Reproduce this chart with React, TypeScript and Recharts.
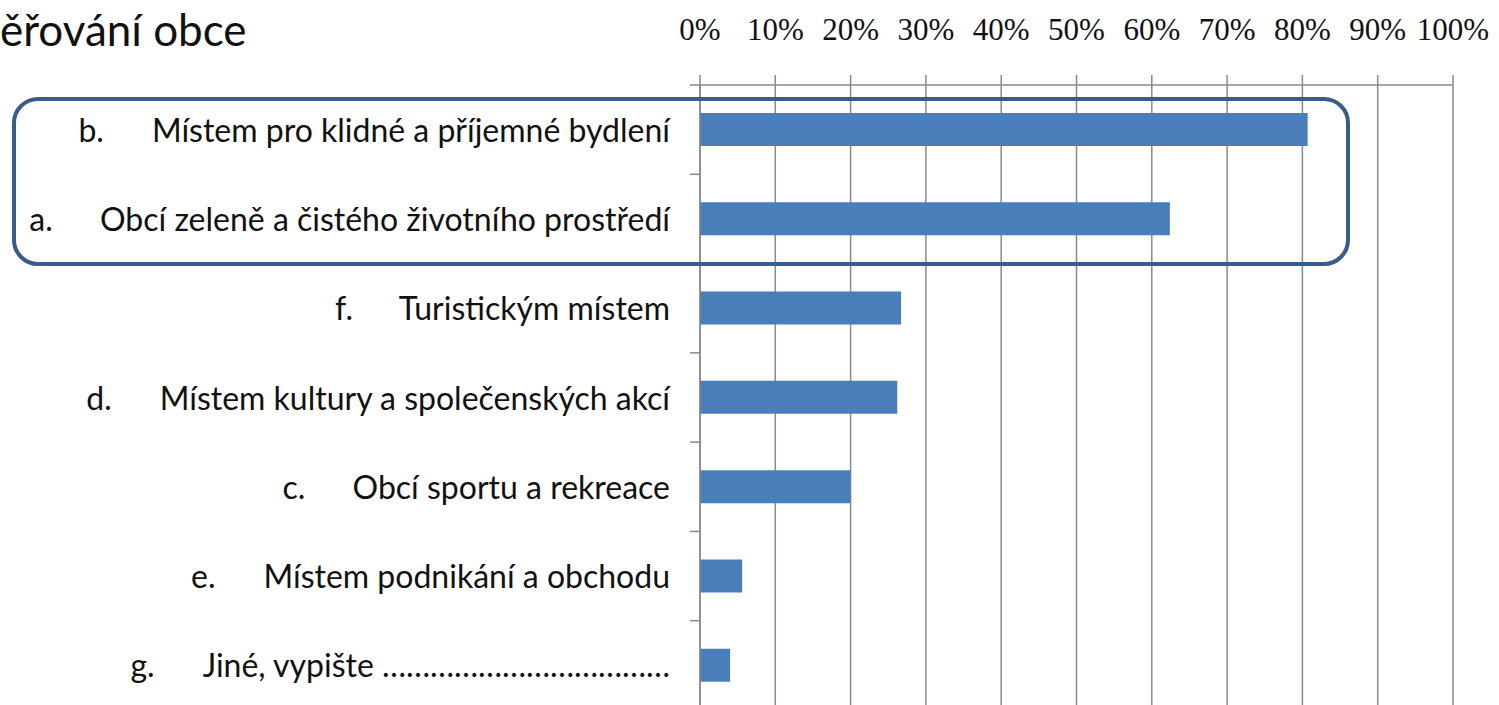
import React from "react";
import { Bar, BarChart, CartesianGrid, XAxis, YAxis } from "recharts";

const letters = ["b.", "a.", "f.", "d.", "c.", "e.", "g."];
const labels = [
  "Místem pro klidné a příjemné bydlení",
  "Obcí zeleně a čistého životního prostředí",
  "Turistickým místem",
  "Místem kultury a společenských akcí",
  "Obcí sportu a rekreace",
  "Místem podnikání a obchodu",
  "Jiné, vypište ………………………………",
];
const shares = [80.7, 62.4, 26.7, 26.2, 20.0, 5.6, 4.0];
const percentTicks = [0, 10, 20, 30, 40, 50, 60, 70, 80, 90, 100];

const data = labels.map((label, i) => ({
  name: label,
  letter: letters[i],
  value: shares[i],
}));

const CHART_W = 1499;
const CHART_H = 710;
const TOP_AXIS_H = 85;
const HALF_BAND = (CHART_H - TOP_AXIS_H) / data.length / 2;
const GRID = "#8a8a8a";
const LABEL_FONT = "Lato, 'Noto Sans', sans-serif";

const CategoryTick = (props: any) => {
  const { x, y, index } = props;
  const row = data[index];
  return (
    <g>
      <line x1={x - 10} x2={x} y1={y - HALF_BAND} y2={y - HALF_BAND} stroke={GRID} strokeWidth={1.5} />
      <text
        x={x - 30}
        y={y}
        dy={12}
        textAnchor="end"
        fontFamily={LABEL_FONT}
        fontSize={32}
        fill="#111"
      >
        <tspan>{row ? row.letter : ""}</tspan>
        <tspan dx={48}>{row ? row.name : ""}</tspan>
      </text>
    </g>
  );
};

const App = () => {
  return (
    <div
      style={{
        position: "absolute",
        left: 0,
        top: 0,
        width: 1499,
        height: 705,
        overflow: "hidden",
        background: "#fff",
      }}
    >
      <BarChart
        width={CHART_W}
        height={CHART_H}
        data={data}
        layout="vertical"
        margin={{ top: 0, right: 46, left: 0, bottom: 0 }}
      >
        <CartesianGrid vertical horizontal={false} stroke={GRID} strokeWidth={1.5} />
        <XAxis
          type="number"
          orientation="top"
          domain={[0, 100]}
          ticks={percentTicks}
          interval={0}
          height={TOP_AXIS_H}
          tickSize={10}
          tickMargin={35}
          tickFormatter={(v: number) => `${v}%`}
          tick={{ fontFamily: "'Liberation Serif', serif", fontSize: 31, fill: "#111" }}
          axisLine={{ stroke: GRID, strokeWidth: 1.5 }}
          tickLine={{ stroke: GRID, strokeWidth: 1.5 }}
        />
        <YAxis
          type="category"
          dataKey="name"
          width={700}
          interval={0}
          tickSize={0}
          tickMargin={0}
          tickLine={false}
          axisLine={{ stroke: GRID, strokeWidth: 1.5 }}
          tick={<CategoryTick />}
        />
        <Bar dataKey="value" fill="#4A7EBB" barSize={33} isAnimationActive={false} />
      </BarChart>
      <div
        style={{
          position: "absolute",
          left: 0,
          top: 7,
          fontFamily: LABEL_FONT,
          fontSize: 44,
          lineHeight: "44px",
          color: "#111",
          whiteSpace: "nowrap",
        }}
      >
        ěřování obce
      </div>
      <div
        style={{
          position: "absolute",
          left: 12,
          top: 97,
          width: 1338,
          height: 169,
          boxSizing: "border-box",
          border: "4.5px solid #385D8A",
          borderRadius: 26,
        }}
      />
    </div>
  );
};

export default App;
